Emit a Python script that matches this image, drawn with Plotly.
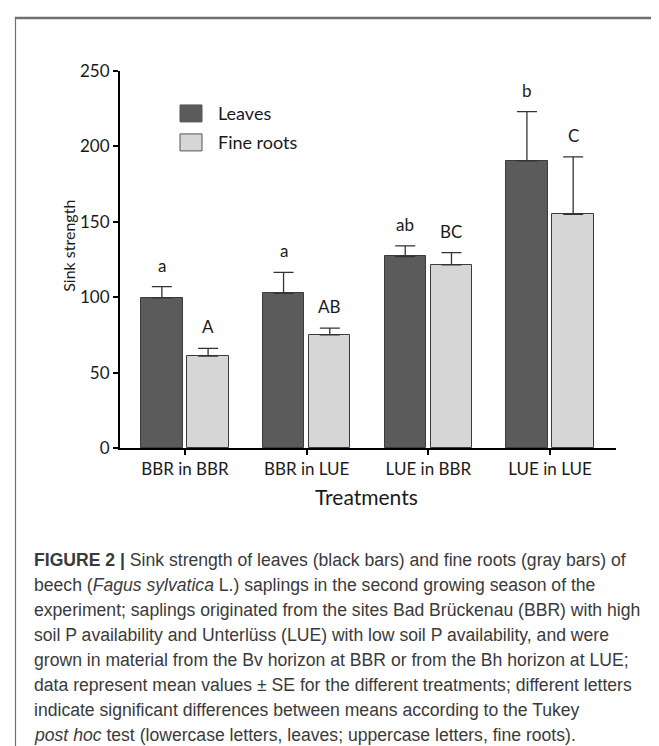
import plotly.graph_objects as go

categories = ["BBR in BBR", "BBR in LUE", "LUE in BBR", "LUE in LUE"]
series_names = ["Leaves", "Fine roots"]
leaves = [99.5, 102.5, 127, 190.5]
leaves_se = [7.5, 14, 7, 32.5]
roots = [61, 75, 121.5, 155]
roots_se = [5, 4.5, 8, 38]
leaves_letters = ["a", "a", "ab", "b"]
roots_letters = ["A", "AB", "BC", "C"]
y_ticks = [0, 50, 100, 150, 200, 250]

caption_lines = [
    "<b>FIGURE 2 |</b> Sink strength of leaves (black bars) and fine roots (gray bars) of",
    "beech (<i>Fagus sylvatica</i> L.) saplings in the second growing season of the",
    "experiment; saplings originated from the sites Bad Brückenau (BBR) with high",
    "soil P availability and Unterlüss (LUE) with low soil P availability, and were",
    "grown in material from the Bv horizon at BBR or from the Bh horizon at LUE;",
    "data represent mean values ± SE for the different treatments; different letters",
    "indicate significant differences between means according to the Tukey",
    "<i>post hoc</i> test (lowercase letters, leaves; uppercase letters, fine roots).",
]

W, H = 659, 746
PL, PR, PT, PB = 112, 608, 62.5, 440  # plot area in px


def px_x(px):
    return (px - PL) / (PR - PL)


def px_y(py):
    return (PB - py) / (PB - PT)


xpos = list(range(len(categories)))
colors = ["#5b5b5b", "#d6d6d6"]
BAR_W = 0.34

fig = go.Figure()
for vals, se, name, col, off in [
    (leaves, leaves_se, series_names[0], colors[0], -0.36),
    (roots, roots_se, series_names[1], colors[1], 0.02),
]:
    fig.add_trace(go.Bar(
        x=xpos, y=vals, name=name, width=BAR_W, offset=off,
        marker=dict(color=col, line=dict(color="#3c3c3c", width=1)),
        error_y=dict(type="data", array=se, arrayminus=[0] * len(se), symmetric=False,
                     color="#333333", thickness=1.3, width=10),
        showlegend=False,
    ))

annotations = []
for i in xpos:
    for vals, se, letters, off in [(leaves, leaves_se, leaves_letters, -0.36),
                                   (roots, roots_se, roots_letters, 0.02)]:
        annotations.append(dict(
            x=i + off + BAR_W / 2, y=vals[i] + se[i], xref="x", yref="y",
            text=letters[i], showarrow=False, yanchor="bottom", yshift=9,
            font=dict(family="Lato", size=17, color="#1a1a1a"),
        ))

# legend (manual)
shapes = []
for k, (name, col) in enumerate(zip(series_names, colors)):
    cy = 105 + 29 * k
    shapes.append(dict(type="rect", xref="paper", yref="paper",
                       x0=px_x(172), x1=px_x(194), y0=px_y(cy + 8.5), y1=px_y(cy - 8.5),
                       fillcolor=col, line=dict(color="#555555", width=1)))
    annotations.append(dict(x=px_x(208), y=px_y(cy), xref="paper", yref="paper",
                            text=name, showarrow=False, xanchor="left", yanchor="middle",
                            font=dict(family="Lato", size=18, color="#1a1a1a")))

# axis titles
annotations.append(dict(x=px_x(49), y=px_y(238), xref="paper", yref="paper",
                        text="Sink strength", textangle=-90, showarrow=False,
                        font=dict(family="Lato", size=16, color="#1a1a1a")))
annotations.append(dict(x=px_x(358), y=px_y(503), xref="paper", yref="paper",
                        text="Treatments", showarrow=False,
                        font=dict(family="Lato", size=21, color="#1a1a1a")))

# caption
for j, line in enumerate(caption_lines):
    annotations.append(dict(x=px_x(24), y=px_y(552 + 25 * j), xref="paper", yref="paper",
                            text=line, showarrow=False, xanchor="left", yanchor="middle",
                            font=dict(family="Liberation Sans, Arial, sans-serif",
                                      size=17.6, color="#3a3a3a")))

# frame (top and left edges)
shapes.append(dict(type="line", xref="paper", yref="paper",
                   x0=px_x(7), x1=px_x(W + 5), y0=px_y(9.5), y1=px_y(9.5),
                   line=dict(color="#6f6f6f", width=2.5)))
shapes.append(dict(type="line", xref="paper", yref="paper",
                   x0=px_x(7.5), x1=px_x(7.5), y0=px_y(9), y1=px_y(H + 5),
                   line=dict(color="#6f6f6f", width=1.2)))

fig.update_layout(
    width=W, height=H,
    margin=dict(l=PL, r=W - PR, t=PT, b=H - PB, pad=0),
    paper_bgcolor="white", plot_bgcolor="white",
    annotations=annotations, shapes=shapes,
    bargap=0, showlegend=False,
    font=dict(family="Lato", color="#1a1a1a"),
)
fig.update_xaxes(
    range=[-0.534, 3.542], tickvals=xpos, ticktext=categories,
    showline=True, linecolor="black", linewidth=2, ticks="outside", ticklen=5,
    tickwidth=2, tickcolor="black", showgrid=False, zeroline=False,
    tickfont=dict(family="Lato", size=17, color="#1a1a1a"),
)
fig.update_yaxes(
    range=[0, 250], tickvals=y_ticks,
    showline=True, linecolor="black", linewidth=2, ticks="outside", ticklen=5,
    tickwidth=2, tickcolor="black", showgrid=False, zeroline=False,
    tickfont=dict(family="Lato", size=17, color="#1a1a1a"),
)

fig.write_html("out.html")
